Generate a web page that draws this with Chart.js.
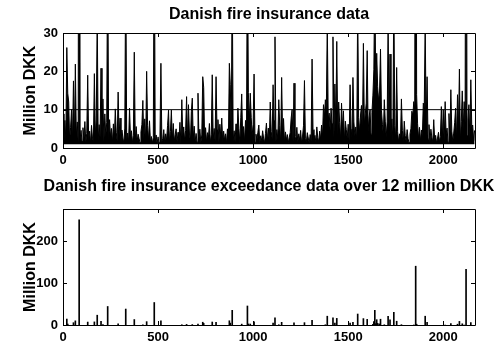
<!DOCTYPE html>
<html>
<head>
<meta charset="utf-8">
<script src="https://cdn.jsdelivr.net/npm/chart.js@4.4.1/dist/chart.umd.min.js"></script>
<style>
  html, body { margin: 0; padding: 0; background: #fff; }
  #wrap { position: relative; width: 502px; height: 345px; }
  canvas { position: absolute; left: 0; }
</style>
</head>
<body>
<div id="wrap">
  <canvas id="topChart" width="502" height="170" style="top:0"></canvas>
  <canvas id="bottomChart" width="502" height="175" style="top:170px"></canvas>
</div>
<script>
// Danish fire insurance losses (million DKK), one value per 5 claims
var step = 5;
var losses = [
    8.9, 1.5, 7.2, 2.1, 26.2, 14.3, 12.0, 1.8, 5.4, 10.1, 2.2, 17.5, 1.6, 21.9, 3.1, 6.8, 1.4, 263.3, 2.4, 4.6,
    1.7, 5.3, 2.3, 6.9, 1.5, 3.8, 19.0, 2.0, 4.4, 1.3, 5.9, 2.6, 1.6, 19.4, 3.5, 7.3, 35.4, 1.9, 6.1, 2.8,
    20.8, 2.4, 12.8, 1.6, 8.9, 3.2, 6.6, 56.2, 1.8, 7.4, 2.9, 5.1, 1.4, 6.3, 2.2, 10.2, 4.1, 1.7, 14.6, 3.3,
    7.8, 1.5, 4.7, 2.6, 1.3, 5.2, 50.1, 2.0, 3.9, 1.6, 10.4, 2.8, 4.5, 1.4, 3.3, 25.0, 2.1, 5.6, 1.8, 3.6,
    2.5, 1.4, 4.2, 6.1, 12.4, 2.3, 7.6, 1.7, 20.0, 5.8, 2.0, 7.1, 1.5, 3.0, 1.3, 2.7, 65.7, 1.6, 3.4, 1.2,
    2.9, 1.4, 3.1, 22.1, 1.6, 2.5, 4.8, 1.3, 3.7, 2.0, 5.9, 9.9, 1.5, 4.3, 9.9, 2.2, 6.4, 1.7, 3.5, 5.0,
    1.6, 4.1, 2.3, 6.7, 1.4, 12.6, 3.2, 5.5, 1.8, 4.6, 13.4, 2.1, 11.3, 3.9, 1.5, 9.5, 13.0, 2.4, 5.7, 1.7,
    3.8, 1.5, 14.3, 2.6, 4.9, 1.3, 3.4, 18.6, 15.8, 2.0, 5.3, 1.6, 4.0, 2.7, 6.4, 1.4, 3.6, 19.1, 2.2, 5.1,
    1.8, 18.6, 4.7, 7.4, 1.5, 6.2, 2.9, 7.8, 1.6, 4.4, 2.1, 3.7, 1.3, 5.0, 2.4, 22.1, 16.5, 3.1, 47.0, 1.7,
    4.5, 1.6, 6.3, 2.2, 10.4, 5.1, 1.4, 8.0, 14.1, 3.0, 5.6, 1.7, 7.2, 2.5, 57.4, 14.5, 6.8, 14.3, 7.9, 3.3,
    6.1, 19.3, 1.5, 3.6, 2.2, 4.1, 6.0, 1.4, 3.2, 1.9, 4.5, 2.6, 1.3, 3.8, 6.5, 2.0, 5.2, 1.6, 12.0, 4.3,
    2.4, 16.5, 7.1, 29.0, 1.7, 4.8, 2.3, 12.6, 5.9, 1.5, 18.4, 3.3, 7.7, 1.6, 4.2, 2.1, 3.5, 1.4, 2.8, 4.0,
    7.8, 10.0, 1.6, 16.9, 3.0, 2.2, 5.4, 1.5, 3.7, 2.0, 4.6, 1.3, 3.1, 5.8, 17.6, 2.4, 1.7, 4.0, 2.6, 1.4,
    3.5, 1.8, 23.2, 4.8, 2.1, 3.3, 1.5, 5.5, 2.7, 1.6, 4.4, 2.3, 6.0, 3.1, 11.3, 8.2, 12.6, 9.4, 33.0, 7.5,
    9.1, 4.6, 10.4, 6.3, 29.0, 2.8, 16.7, 5.9, 27.8, 3.4, 12.0, 6.7, 2.2, 11.7, 5.1, 9.7, 1.9, 7.0, 4.8, 2.5,
    6.2, 1.8, 16.5, 4.9, 2.6, 18.4, 6.8, 3.1, 5.5, 2.0, 38.2, 7.9, 4.2, 8.6, 11.1, 3.7, 27.3, 6.4, 8.9, 11.7,
    25.4, 4.5, 8.1, 10.0, 3.6, 9.3, 13.8, 20.4, 47.0, 15.2, 24.7, 16.0, 12.4, 14.6, 25.8, 9.8, 6.2, 3.4, 12.6, 7.0,
    2.9, 6.8, 32.8, 5.2, 24.5, 3.0, 7.6, 1.8, 42.3, 5.9, 2.4, 21.0, 4.3, 1.6, 3.7, 2.2, 12.8, 4.6, 1.5, 7.0,
    3.2, 1.7, 4.8, 2.4, 1.4, 3.6, 5.1, 9.6, 8.4, 12.1, 10.2, 152.4, 13.9, 6.3, 2.5, 5.4, 1.9, 4.7, 3.0, 11.7,
    10.4, 33.0, 5.6, 18.6, 2.3, 6.1, 1.6, 4.9, 2.8, 1.5, 7.4, 2.0, 3.3, 1.3, 2.6, 4.1, 1.6, 3.0, 10.8, 2.2,
    10.0, 1.8, 12.1, 3.6, 5.2, 1.5, 9.0, 2.7, 15.2, 4.4, 1.7, 3.9, 6.6, 10.4, 2.3, 13.9, 5.3, 20.6, 1.9, 6.9,
    14.9, 4.8, 12.1, 6.5, 144.7, 3.2, 7.3, 11.3, 2.6, 17.8, 5.5, 6.0, 1.9, 4.6
];
var threshold = 12;     // exceedance threshold, million DKK
var markLevel = 10;     // horizontal reference line in the top plot
var floorLevel = 1;     // losses start at 1 million, band is shaded down to here
var xMax = 2167;
var xTicks = [0, 500, 1000, 1500, 2000];
var yTicksTop = [0, 10, 20, 30];
var yTicksBottom = [0, 100, 200];
var yMaxTop = 30;
var yMaxBottom = 277;

var fontFamily = 'Arial, "Liberation Sans", Helvetica, sans-serif';

// MATLAB style box with inward ticks on all four sides
var boxTicks = {
    id: 'boxTicks',
    afterDatasetsDraw: function (chart) {
        var ctx = chart.ctx;
        var a = chart.chartArea;
        var sx = chart.scales.x;
        var sy = chart.scales.y;
        var len = 4;
        ctx.save();
        ctx.strokeStyle = '#000';
        ctx.lineWidth = 1;
        ctx.beginPath();
        ctx.rect(a.left + 0.5, a.top + 0.5, a.right - a.left, a.bottom - a.top);
        sx.ticks.forEach(function (t) {
            var px = Math.round(sx.getPixelForValue(t.value)) + 0.5;
            ctx.moveTo(px, a.bottom); ctx.lineTo(px, a.bottom - len);
            ctx.moveTo(px, a.top); ctx.lineTo(px, a.top + len);
        });
        sy.ticks.forEach(function (t) {
            var py = Math.round(sy.getPixelForValue(t.value)) + 0.5;
            ctx.moveTo(a.left, py); ctx.lineTo(a.left + len, py);
            ctx.moveTo(a.right, py); ctx.lineTo(a.right - len, py);
        });
        ctx.stroke();
        ctx.restore();
    }
};

// title centred over the plot box (not over the whole canvas)
var plotTitle = {
    id: 'plotTitle',
    afterDraw: function (chart, args, opts) {
        var ctx = chart.ctx;
        var a = chart.chartArea;
        ctx.save();
        ctx.fillStyle = '#000';
        ctx.font = 'bold 16px ' + fontFamily;
        ctx.textAlign = 'center';
        ctx.textBaseline = 'middle';
        ctx.fillText(opts.text, (a.left + a.right) / 2, opts.y);
        ctx.restore();
    }
};

function xScale(axisHeight) {
    return {
        type: 'linear',
        min: 0,
        max: xMax,
        offset: false,
        grid: { display: false, drawTicks: false },
        border: { display: false },
        afterBuildTicks: function (scale) {
            scale.ticks = xTicks.map(function (v) { return { value: v }; });
        },
        afterFit: function (scale) { scale.height = axisHeight; },
        ticks: {
            color: '#000',
            padding: 5,
            maxRotation: 0,
            autoSkip: false,
            font: { family: fontFamily, size: 13, weight: 'bold' },
            callback: function (v) { return String(v); }
        }
    };
}

function yScale(maxVal, tickList) {
    return {
        type: 'linear',
        min: 0,
        max: maxVal,
        grid: { display: false, drawTicks: false },
        border: { display: false },
        afterBuildTicks: function (scale) {
            scale.ticks = tickList.map(function (v) { return { value: v }; });
        },
        afterFit: function (scale) { scale.width = 63; },
        title: {
            display: true,
            text: 'Million DKK',
            color: '#000',
            padding: { top: 21, bottom: 0 },
            font: { family: fontFamily, size: 16, weight: 'bold' }
        },
        ticks: {
            color: '#000',
            padding: 5,
            font: { family: fontFamily, size: 13, weight: 'bold' },
            callback: function (v) { return String(v); }
        }
    };
}

var lossPoints = losses.map(function (v, i) { return { x: i * step, y: v }; });
var exceedPoints = [];
losses.forEach(function (v, i) {
    if (v > threshold) exceedPoints.push({ x: i * step, y: v - threshold });
});

document.addEventListener('DOMContentLoaded', function () {
    new Chart(document.getElementById('topChart').getContext('2d'), {
        type: 'line',
        data: {
            datasets: [{
                data: lossPoints,
                borderColor: '#000',
                backgroundColor: '#000',
                fill: { value: floorLevel },
                borderWidth: 1,
                pointRadius: 0,
                tension: 0
            }, {
                data: [{ x: 0, y: markLevel }, { x: xMax, y: markLevel }],
                borderColor: '#000',
                borderWidth: 1,
                pointRadius: 0
            }]
        },
        options: {
            responsive: false,
            animation: false,
            events: [],
            parsing: false,
            layout: { padding: { left: 0, right: 27, top: 33, bottom: 0 } },
            plugins: {
                legend: { display: false },
                tooltip: { enabled: false },
                plotTitle: { text: 'Danish fire insurance data', y: 15 }
            },
            scales: {
                x: xScale(22),
                y: yScale(yMaxTop, yTicksTop)
            }
        },
        plugins: [boxTicks, plotTitle]
    });

    new Chart(document.getElementById('bottomChart').getContext('2d'), {
        type: 'bar',
        data: {
            datasets: [{
                data: exceedPoints,
                backgroundColor: '#000',
                borderWidth: 0,
                barThickness: 1
            }]
        },
        options: {
            responsive: false,
            animation: false,
            events: [],
            layout: { padding: { left: 0, right: 27, top: 39, bottom: 0 } },
            plugins: {
                legend: { display: false },
                tooltip: { enabled: false },
                plotTitle: { text: 'Danish fire insurance exceedance data over 12 million DKK', y: 17 }
            },
            scales: {
                x: xScale(20),
                y: yScale(yMaxBottom, yTicksBottom)
            }
        },
        plugins: [boxTicks, plotTitle]
    });
});
</script>
</body>
</html>
